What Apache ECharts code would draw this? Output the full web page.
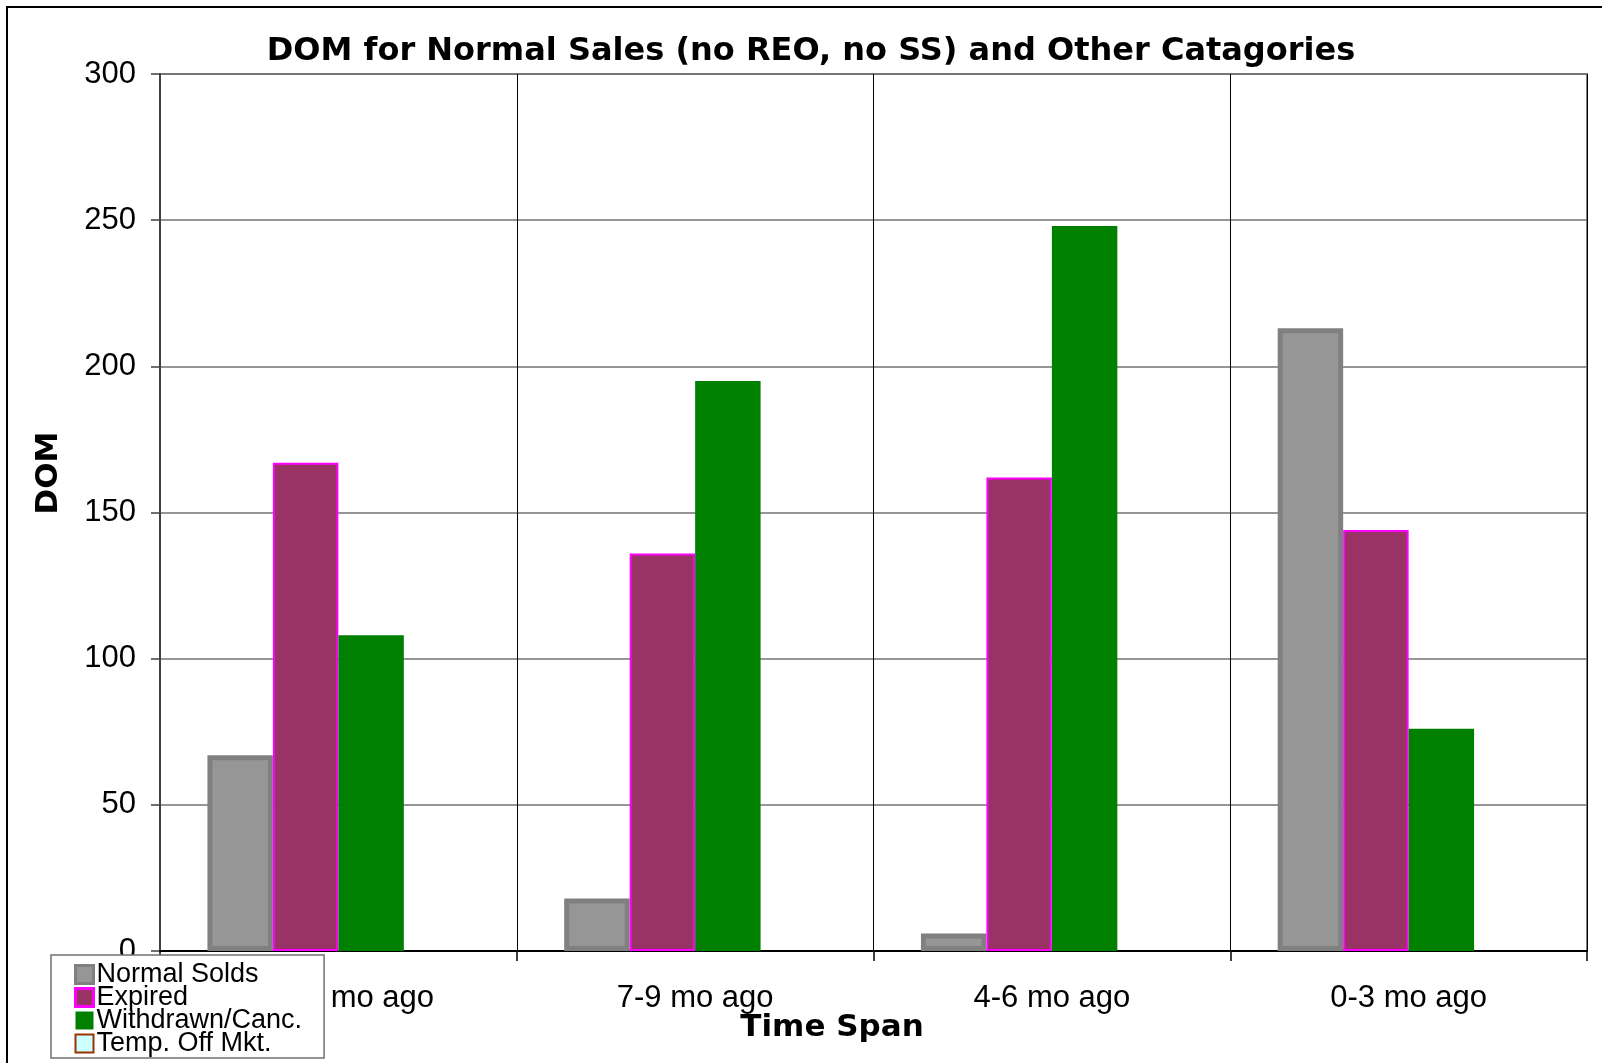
<!DOCTYPE html>
<html>
<head>
<meta charset="utf-8">
<title>DOM for Normal Sales</title>
<script src="https://cdn.jsdelivr.net/npm/echarts@6/dist/echarts.min.js"></script>
<style>
  html, body { margin: 0; padding: 0; background: #fff; }
  #chart { width: 1602px; height: 1063px; }
</style>
</head>
<body>
<div id="chart"></div>
<script>
// Time spans on the category axis
const categories = ['10-12 mo ago', '7-9 mo ago', '4-6 mo ago', '0-3 mo ago'];

// Days on market per listing status
const normalSolds = [67, 18, 6, 213];
const expired = [167, 136, 162, 144];
const withdrawnCanc = [108, 195, 248, 76];
const tempOffMkt = [0, 0, 0, 0];

// Value axis ticks
const yMin = 0;
const yMax = 300;
const yStep = 50;

const regularFont = '"Liberation Sans", Arial, sans-serif';
const boldFont = '"DejaVu Sans", Verdana, sans-serif';

const chart = echarts.init(document.getElementById('chart'), null, { renderer: 'canvas' });

chart.setOption({
  animation: false,
  backgroundColor: '#ffffff',
  title: {
    text: 'DOM for Normal Sales (no REO, no SS) and Other Catagories',
    left: 806,
    textAlign: 'center',
    top: 31,
    textStyle: { fontFamily: boldFont, fontWeight: 'bold', fontSize: 32, color: '#000' }
  },
  grid: {
    left: 160, top: 74, right: 15, bottom: 112,
    show: true, borderColor: '#808080', borderWidth: 2, backgroundColor: 'transparent'
  },
  legend: {
    orient: 'vertical',
    left: 51, top: 955,
    height: 400,
    padding: [6, 22, 1, 23],
    itemGap: -4,
    itemWidth: 18, itemHeight: 18,
    backgroundColor: '#fff',
    borderColor: '#707070', borderWidth: 1.5,
    icon: 'rect',
    textStyle: { fontFamily: regularFont, fontSize: 27, color: '#000', padding: [0, 0, 0, -2] },
    data: [
      { name: 'Normal Solds', itemStyle: { color: '#969696', borderColor: '#808080', borderWidth: 3 } },
      { name: 'Expired', itemStyle: { color: '#993366', borderColor: '#FF00FF', borderWidth: 3 } },
      { name: 'Withdrawn/Canc.', itemStyle: { color: '#008000', borderColor: '#008000', borderWidth: 0 } },
      { name: 'Temp. Off Mkt.', itemStyle: { color: '#CCFFFF', borderColor: '#993300', borderWidth: 2 } }
    ]
  },
  xAxis: {
    type: 'category',
    data: categories,
    boundaryGap: true,
    axisLine: { show: true, lineStyle: { color: '#000', width: 2 } },
    axisTick: { show: true, length: 10, lineStyle: { color: '#000', width: 1.5 } },
    axisLabel: { fontFamily: regularFont, fontSize: 31, color: '#000', margin: 32 },
    splitLine: { show: true, lineStyle: { color: '#000', width: 1 } }
  },
  yAxis: {
    type: 'value',
    min: yMin, max: yMax, interval: yStep,
    axisLine: { show: true, lineStyle: { color: '#404040', width: 2 } },
    axisTick: { show: true, length: 9, lineStyle: { color: '#404040', width: 1.5 } },
    axisLabel: { fontFamily: regularFont, fontSize: 31, color: '#000', margin: 24 },
    splitLine: { show: true, lineStyle: { color: '#737373', width: 1.5 } }
  },
  graphic: [
    {
      type: 'rect', z: -10, silent: true,
      shape: { x: 7, y: 7, width: 1700, height: 1200 },
      style: { fill: 'none', stroke: '#000', lineWidth: 2 }
    },
    {
      type: 'text', silent: true,
      x: 832, y: 1028,
      style: { text: 'Time Span', font: 'bold 31px ' + boldFont, fill: '#000', textAlign: 'center', textVerticalAlign: 'middle' }
    },
    {
      type: 'text', silent: true,
      rotation: Math.PI / 2,
      x: 49, y: 473,
      style: { text: 'DOM', font: 'bold 31px ' + boldFont, fill: '#000', textAlign: 'center', textVerticalAlign: 'middle' }
    }
  ],
  series: [
    {
      name: 'Normal Solds', type: 'bar', data: normalSolds,
      barGap: '0%', barCategoryGap: '26.6%',
      itemStyle: { color: '#969696', borderColor: '#808080', borderWidth: 5 }
    },
    {
      name: 'Expired', type: 'bar', data: expired,
      itemStyle: { color: '#993366', borderColor: '#FF00FF', borderWidth: 2 }
    },
    {
      name: 'Withdrawn/Canc.', type: 'bar', data: withdrawnCanc,
      itemStyle: { color: '#008000', borderWidth: 0 }
    },
    {
      name: 'Temp. Off Mkt.', type: 'bar', data: tempOffMkt,
      itemStyle: { color: '#CCFFFF', borderColor: '#993300', borderWidth: 0 }
    }
  ]
});
</script>
</body>
</html>
